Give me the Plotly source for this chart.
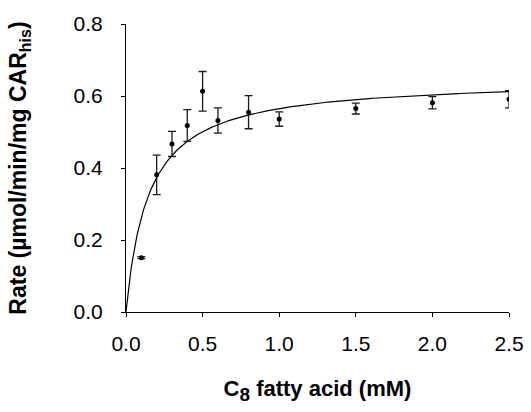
import numpy as np
import plotly.graph_objects as go

# Measured rates (mean ± error) at each C8 fatty acid concentration
conc_mM = [0.1, 0.2, 0.3, 0.4, 0.5, 0.6, 0.8, 1.0, 1.5, 2.0, 2.5]
rate = [0.151, 0.381, 0.467, 0.518, 0.613, 0.532, 0.555, 0.536, 0.565, 0.581, 0.591]
rate_err = [0.003, 0.055, 0.035, 0.044, 0.055, 0.035, 0.046, 0.020, 0.015, 0.017, 0.024]

# Michaelis–Menten fit parameters
vmax = 0.648
km = 0.147

x_ticks = [0.0, 0.5, 1.0, 1.5, 2.0, 2.5]
y_ticks = [0.0, 0.2, 0.4, 0.6, 0.8]

FONT = "Arial, Liberation Sans, sans-serif"

s_fit = np.linspace(0, 2.5, 400)
v_fit = vmax * s_fit / (km + s_fit)

fig = go.Figure()
fig.add_trace(go.Scatter(
    x=s_fit, y=v_fit, mode="lines",
    line=dict(color="black", width=1.2),
    hoverinfo="skip", showlegend=False,
))
fig.add_trace(go.Scatter(
    x=conc_mM, y=rate, mode="markers",
    marker=dict(color="black", size=5),
    error_y=dict(type="data", array=rate_err, visible=True,
                 color="#1a1a1a", thickness=1.3, width=4),
    showlegend=False,
))

axis_common = dict(
    showline=True, linecolor="black", linewidth=1.2,
    ticks="outside", tickcolor="black", tickwidth=1.2,
    showgrid=False, zeroline=False,
    tickfont=dict(family=FONT, size=21, color="black"),
    automargin=False,
)

fig.update_layout(
    width=531, height=412,
    margin=dict(l=126, r=22, t=24, b=100),
    paper_bgcolor="white", plot_bgcolor="white",
    xaxis=dict(
        range=[0, 2.5], tickvals=x_ticks,
        ticktext=[f"{v:.1f}" for v in x_ticks],
        ticklen=4, ticklabelstandoff=9,
        title=dict(text="<b>C<sub><span style='font-size:19px'>8</span></sub> fatty acid (mM)</b>",
                   font=dict(family=FONT, size=22, color="black"),
                   standoff=26),
        **axis_common,
    ),
    yaxis=dict(
        range=[0, 0.8], tickvals=y_ticks,
        ticktext=[f"{v:.1f}" for v in y_ticks],
        ticklen=4, ticklabelstandoff=14,
        title=dict(text="<b>Rate (µmol/min/mg CAR<sub>his</sub>)</b>",
                   font=dict(family=FONT, size=23, color="black"),
                   standoff=40),
        **axis_common,
    ),
)

fig.write_html("out.html")
